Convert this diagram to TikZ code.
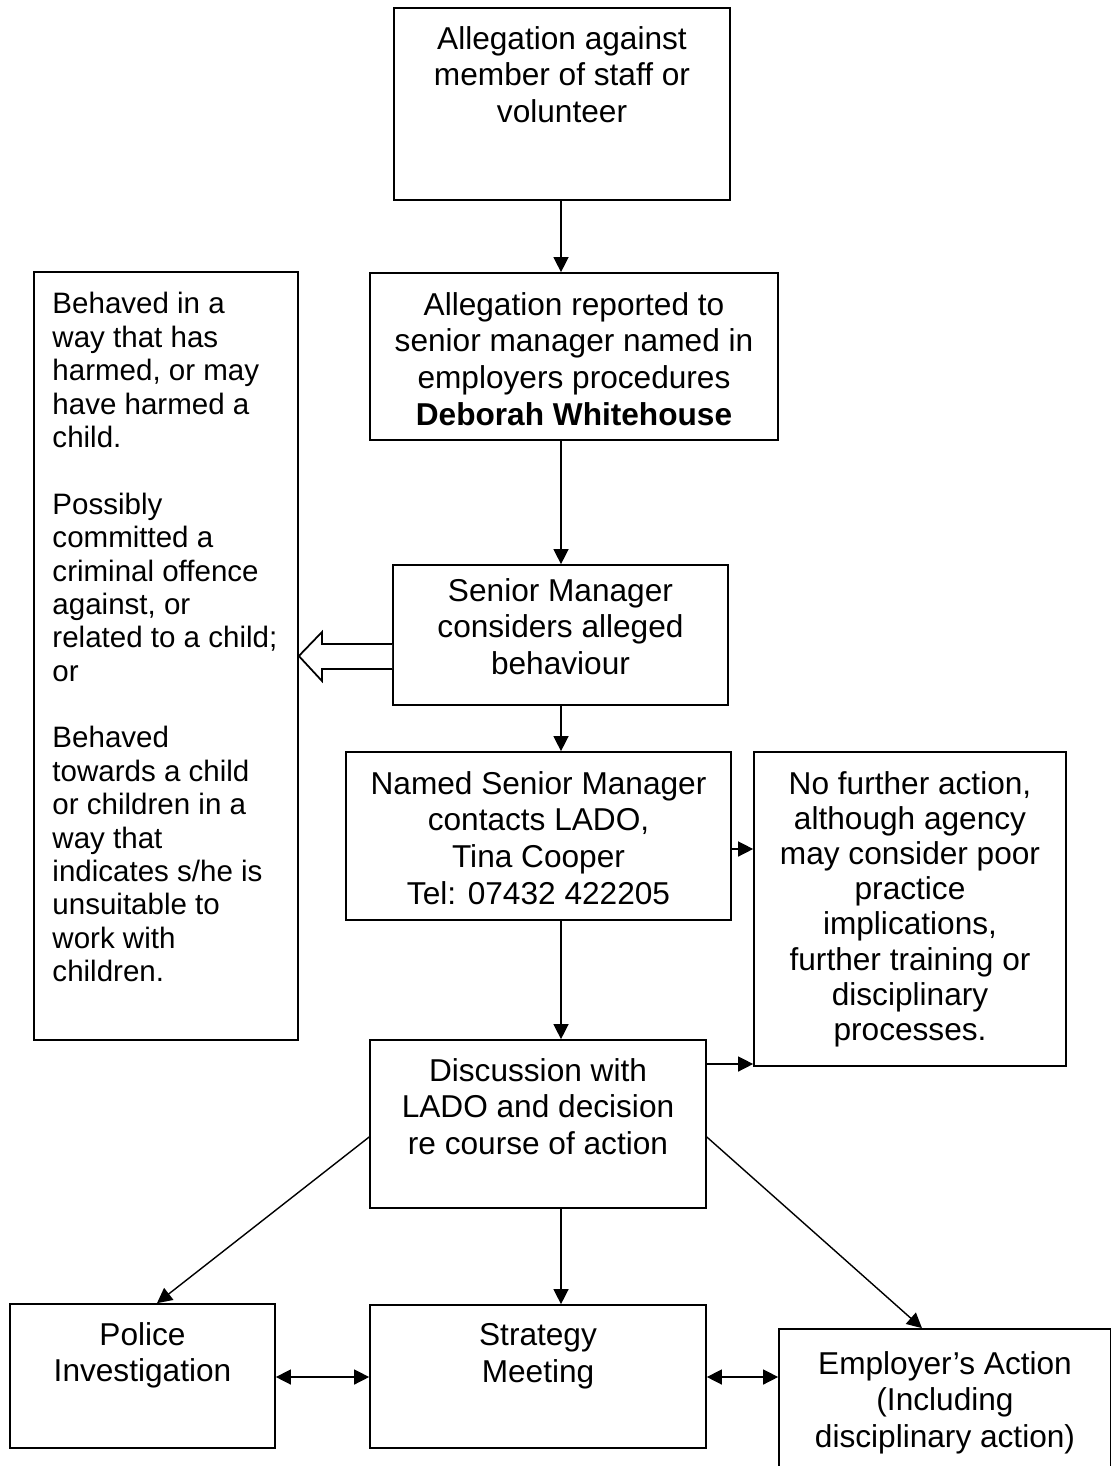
\documentclass[tikz,border=0pt]{standalone}
\usepackage{fontspec}
\setmainfont{Liberation Sans}
\usetikzlibrary{arrows.meta,positioning}

\tikzset{
  box/.style={draw, line width=1pt, shape=rectangle, inner sep=0pt},
  txt/.style={inner sep=0pt, align=center, font=\fontsize{18}{20.8}\selectfont},
  arr/.style={line width=0.8pt, -{Triangle[length=0.3cm,width=0.3cm]}},
  dblarr/.style={line width=0.8pt, {Triangle[length=0.3cm,width=0.3cm]}-{Triangle[length=0.3cm,width=0.3cm]}},
}

\begin{document}
\begin{tikzpicture}[x=0.02cm, y=-0.02cm]
      \useasboundingbox (0,0) rectangle (1111,1466);
      \clip (0,0) rectangle (1111,1466);

      % boxes
      \node[box, minimum width=6.72cm, minimum height=3.84cm] (alleg) at (562,104) {};
      \node[box, minimum width=8.16cm, minimum height=3.34cm] (report) at (574,356.5) {};
      \node[box, minimum width=5.28cm, minimum height=15.36cm] (behav) at (166,656) {};
      \node[box, minimum width=6.7cm, minimum height=2.8cm] (senior) at (560.5,635) {};
      \node[box, minimum width=7.7cm, minimum height=3.36cm] (lado) at (538.5,836) {};
      \node[box, minimum width=6.24cm, minimum height=6.28cm] (nfa) at (910,909) {};
      \node[box, minimum width=6.72cm, minimum height=3.36cm] (disc) at (538,1124) {};
      \node[box, minimum width=5.3cm, minimum height=2.88cm] (police) at (142.5,1376) {};
      \node[box, minimum width=6.72cm, minimum height=2.86cm] (strat) at (538,1376.5) {};
      \node[box, minimum width=6.64cm, minimum height=3.04cm] (employer) at (945,1405) {};

      % texts
      \node[txt, below=0.38cm of alleg.north] (alleg-t) {Allegation against\\member of staff or\\volunteer};
      \node[txt, below=0.4cm of report.north] (report-t) {Allegation reported to\\senior manager named in\\employers procedures\\\textbf{Deborah Whitehouse}};
      \node[txt, align=left, font=\fontsize{16.8}{19}\selectfont, below right=0.42cm and 0.38cm of behav.north west] (behav-t)
        {Behaved in a\\way that has\\harmed, or may\\have harmed a\\child.\\[19pt]Possibly\\committed a\\criminal offence\\against, or\\related to a child;\\or\\[19pt]Behaved\\towards a child\\or children in a\\way that\\indicates s/he is\\unsuitable to\\work with\\children.};
      \node[txt, below=0.28cm of senior.north] (senior-t) {Senior Manager\\considers alleged\\behaviour};
      \node[txt, below=0.4cm of lado.north] (lado-t) {Named Senior Manager\\contacts LADO,\\Tina Cooper\\Tel: 07432 422205};
      \node[txt, font=\fontsize{18}{20}\selectfont, below=0.4cm of nfa.north] (nfa-t) {No further action,\\although agency\\may consider poor\\practice\\implications,\\further training or\\disciplinary\\processes.};
      \node[txt, below=0.38cm of disc.north] (disc-t) {Discussion with\\LADO and decision\\re course of action};
      \node[txt, below=0.38cm of police.north] (police-t) {Police\\Investigation};
      \node[txt, below=0.38cm of strat.north] (strat-t) {Strategy\\Meeting};
      \node[txt, below=0.46cm of employer.north] (employer-t) {Employer’s Action\\(Including\\disciplinary action)};

      % connectors
      \coordinate (spine) at (561,0);
      \draw[arr] (alleg.south -| spine) -- (report.north -| spine);
      \draw[arr] (report.south -| spine) -- (senior.north -| spine);
      \draw[arr] (senior.south -| spine) -- (lado.north -| spine);
      \draw[arr] (lado.south -| spine) -- (disc.north -| spine);
      \draw[arr] (disc.south -| spine) -- (strat.north -| spine);

      \draw[arr] (lado.east |- 0,849) -- (nfa.west |- 0,849);
      \draw[arr] (disc.east |- 0,1064) -- (nfa.west |- 0,1064);

      \draw[arr] (disc.west |- 0,1137) -- (police.north -| 157,0);
      \draw[arr] (disc.east |- 0,1137) -- (employer.north -| 922,0);

      \draw[dblarr] (police.east |- 0,1377) -- (strat.west |- 0,1377);
      \draw[dblarr] (strat.east |- 0,1377) -- (employer.west |- 0,1377);

      % hollow arrow
      \draw[line width=1pt, fill=white] (senior.west |- 0,644) -- (322,644) -- (322,632)
        -- (behav.east |- 0,656) -- (322,681) -- (322,669) -- (senior.west |- 0,669);
\end{tikzpicture}
\end{document}
